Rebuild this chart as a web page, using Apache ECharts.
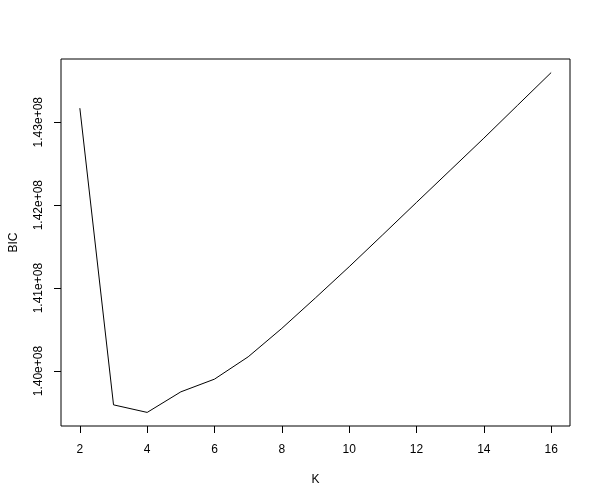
<!DOCTYPE html>
<html>
<head>
<meta charset="utf-8">
<script src="https://cdn.jsdelivr.net/npm/echarts@6/dist/echarts.min.js"></script>
<style>
html,body{margin:0;padding:0;background:#fff;}
#c{width:600px;height:500px;}
</style>
</head>
<body>
<div id="c"></div>
<script>
const kValues = [2, 3, 4, 5, 6, 7, 8, 9, 10, 11, 12, 13, 14, 15, 16];
const bicValues = [143169000, 139593000, 139502000, 139750000, 139903000, 140172000, 140515000,
  140883000, 141258000, 141644000, 142033000, 142420000, 142807000, 143203000, 143598000];
const xTicks = [2, 4, 6, 8, 10, 12, 14, 16];
const yTicks = [140000000, 141000000, 142000000, 143000000];
const xName = 'K';
const yName = 'BIC';

const data = kValues.map((k, i) => [k, bicValues[i]]);
const pad = r => (r.max - r.min) * 0.04;
const font = '"Liberation Sans", Arial, sans-serif';

const chart = echarts.init(document.getElementById('c'), null, {renderer: 'canvas'});
chart.setOption({
  animation: false,
  backgroundColor: '#ffffff',
  grid: {left: 59, right: 30, top: 59, bottom: 74, show: true, borderColor: '#000', borderWidth: 1, containLabel: false},
  xAxis: {
    type: 'value',
    min: r => r.min - pad(r),
    max: r => r.max + pad(r),
    name: xName,
    nameLocation: 'middle',
    nameGap: 48,
    nameTextStyle: {fontFamily: font, fontSize: 12, color: '#000'},
    axisLine: {show: false},
    splitLine: {show: false},
    axisTick: {show: true, inside: false, length: 7, customValues: xTicks, lineStyle: {color: '#000', width: 1}},
    axisLabel: {show: true, margin: 18, customValues: xTicks, fontFamily: font, fontSize: 12, color: '#000'}
  },
  yAxis: {
    type: 'value',
    min: r => r.min - pad(r),
    max: r => r.max + pad(r),
    name: yName,
    nameLocation: 'middle',
    nameRotate: 90,
    nameGap: 41,
    nameTextStyle: {fontFamily: font, fontSize: 12, color: '#000'},
    axisLine: {show: false},
    splitLine: {show: false},
    axisTick: {show: true, inside: false, length: 7, customValues: yTicks, lineStyle: {color: '#000', width: 1}},
    axisLabel: {
      show: true, margin: 16, rotate: 90, customValues: yTicks,
      fontFamily: font, fontSize: 12, color: '#000',
      formatter: v => (v / 1e8).toFixed(2) + 'e+08'
    }
  },
  series: [{
    type: 'line',
    data: data,
    showSymbol: false,
    symbol: 'none',
    lineStyle: {color: '#000', width: 1},
    itemStyle: {color: '#000'}
  }]
});
</script>
</body>
</html>
